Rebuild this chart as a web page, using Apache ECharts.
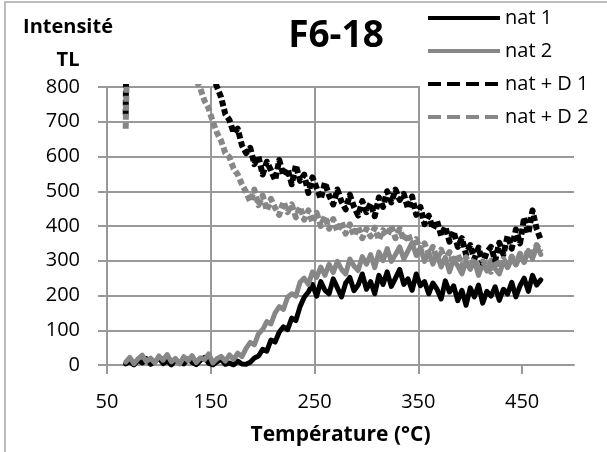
<!DOCTYPE html>
<html>
<head>
<meta charset="utf-8">
<script src="https://cdn.jsdelivr.net/npm/echarts@6/dist/echarts.min.js"></script>
<style>html,body{margin:0;padding:0;background:#fff}#c{width:607px;height:452px}</style>
</head>
<body>
<div id="c"></div>
<script>
const temps = [68,72,76,80,84,88,92,96,100,104,108,112,116,120,124,128,132,136,140,144,148,152,156,160,164,168,172,176,180,184,188,192,196,200,204,208,212,216,220,224,228,232,236,240,244,248,252,256,260,264,268,272,276,280,284,288,292,296,300,304,308,312,316,320,324,328,332,336,340,344,348,352,356,360,364,368,372,376,380,384,388,392,396,400,404,408,412,416,420,424,428,432,436,440,444,448,452,456,460,464,468];

const nat1 = [3,10,0,14,6,18,2,9,20,4,12,0,15,7,3,17,8,1,13,22,5,0,9,16,2,6,0,11,3,
  2,8,20,26,45,40,72,66,95,110,102,135,128,168,195,
  210,232,198,240,215,205,248,222,196,236,252,214,230,262,218,240,205,258,232,268,226,250,275,232,248,215,262,228,240,205,236,218,190,242,210,228,185,215,172,222,196,230,178,212,198,225,186,218,204,238,196,228,250,212,258,230,245];

const nat2 = [8,22,4,18,28,10,20,6,26,14,30,9,19,3,24,12,27,7,21,15,32,6,18,25,11,29,16,34,24,
  48,65,58,90,102,125,118,150,168,160,195,205,198,238,250,
  232,268,252,282,258,290,266,298,275,262,305,285,272,312,290,318,280,325,300,335,298,318,340,305,328,352,315,338,298,325,290,318,282,310,268,305,285,262,298,275,300,258,292,270,302,278,262,296,282,310,288,318,295,330,305,345,318];

const natD1 = [720,1900,2100,2050,1980,1900,1820,1750,1660,1580,1500,1420,1340,1270,1200,1130,1060,1000,950,900,860,830,800,
  770,722,705,668,680,632,610,625,578,600,548,585,560,532,590,545,565,520,575,530,548,
  495,540,510,478,525,488,462,505,470,448,490,455,430,472,440,465,428,482,455,500,468,505,475,492,450,485,432,455,405,430,392,415,372,398,355,385,340,365,318,345,305,338,292,325,340,300,352,318,372,335,390,350,425,378,445,392,360];

const natD2 = [680,1300,1700,1750,1700,1640,1560,1480,1400,1320,1240,1160,1090,1020,960,900,860,820,
  795,760,738,700,668,645,610,598,565,548,520,498,470,505,460,488,445,478,452,432,470,440,462,425,455,418,
  445,410,438,400,428,392,420,385,412,378,405,372,398,365,392,370,395,360,388,372,400,365,392,358,378,345,362,330,350,318,340,305,332,300,325,292,318,285,310,280,305,272,298,285,268,300,278,305,282,312,290,320,298,332,310,345,325];

const seriesNames = ['nat 1','nat 2','nat + D 1','nat + D 2'];
const seriesValues = [nat1, nat2, natD1, natD2];
const xTicks = [50,150,250,350,450];

const colors = ['#000000','#878787','#000000','#878787'];
const dashed = [false,false,true,true];
const FONT = 'Open Sans';
const SOLID_ICON = 'path://M0,0h72v4h-72z';
const DASH_ICON = 'path://M0,0h13v4h-13z M19,0h13v4h-13z M38,0h13v4h-13z M57,0h13v4h-13z M72,0h0v4h0z';

const chart = echarts.init(document.getElementById('c'), null, {renderer:'canvas'});
const series = seriesValues.map((vals, k) => ({
  name: seriesNames[k],
  type: 'line',
  data: temps.map((t, i) => [t, vals[i]]),
  symbol: 'none',
  clip: true,
  animation: false,
  lineStyle: {color: colors[k], width: dashed[k] ? 6 : 5, type: dashed[k] ? [6,3] : 'solid', cap: dashed[k] ? 'butt' : 'round', join: 'round'},
  itemStyle: {color: colors[k]},
  z: 2 + k
}));

chart.setOption({
  animation: false,
  backgroundColor: '#fff',
  grid: {left: 107, right: 33, top: 87, bottom: 87, containLabel: false, outerBoundsMode: 'none'},
  xAxis: {
    type: 'value', min: 50, max: 500, interval: 100,
    axisLine: {show: true, lineStyle: {color: '#999', width: 2}},
    axisTick: {show: true, length: 9, lineStyle: {color: '#999', width: 2}, customValues: xTicks},
    axisLabel: {margin: 27, fontFamily: FONT, fontSize: 20, color: '#000', customValues: xTicks},
    splitLine: {show: true, showMaxLine: false, lineStyle: {color: '#999', width: 2}},
    name: 'Température (°C)', nameLocation: 'middle', nameGap: 60,
    nameTextStyle: {fontFamily: FONT, fontSize: 21, fontWeight: 'bold', color: '#000'}
  },
  yAxis: {
    type: 'value', min: 0, max: 800, interval: 100,
    axisLine: {show: true, lineStyle: {color: '#999', width: 2}},
    axisTick: {show: true, length: 9, lineStyle: {color: '#999', width: 2}},
    axisLabel: {margin: 27, fontFamily: FONT, fontSize: 20, color: '#000'},
    splitLine: {show: true, lineStyle: {color: '#999', width: 2}}
  },
  legend: {
    orient: 'vertical', left: 420, top: 0,
    padding: [8, 40, 6, 8],
    backgroundColor: '#fff',
    itemWidth: 72, itemHeight: 4, itemGap: 13,
    textStyle: {fontFamily: FONT, fontSize: 20, color: '#000', lineHeight: 20},
    data: seriesNames.map((n, k) => ({name: n, icon: dashed[k] ? DASH_ICON : SOLID_ICON, itemStyle: {color: colors[k]}}))
  },
  graphic: [
    {type: 'rect', shape: {x: 5, y: 2, width: 700, height: 600}, style: {fill: 'none', stroke: '#a6a6a6', lineWidth: 1.5}, silent: true, z: 100},
    {type: 'text', style: {x: 336, y: 36, text: 'F6-18', textAlign: 'center', textVerticalAlign: 'middle', font: 'bold 37px "Open Sans"', fill: '#000'}},
    {type: 'text', style: {x: 68, y: 44, text: 'Intensité\nTL', textAlign: 'center', textVerticalAlign: 'middle', font: 'bold 20px "Open Sans"', lineHeight: 33, fill: '#000'}}
  ],
  series: series
});
</script>
</body>
</html>
